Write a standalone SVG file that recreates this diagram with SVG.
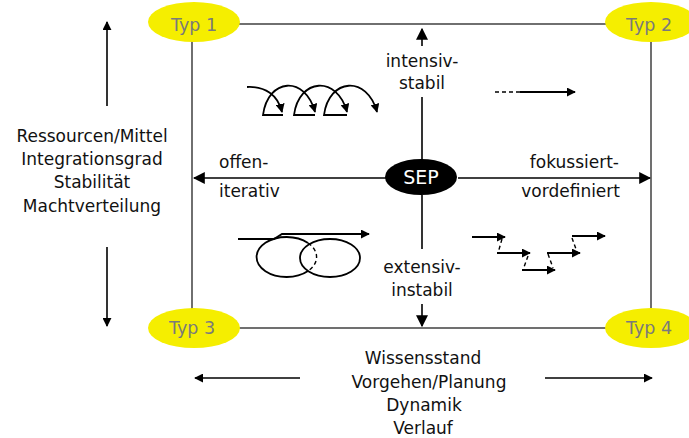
<svg xmlns="http://www.w3.org/2000/svg" width="689" height="438" viewBox="0 0 689 438">
  <defs>
    <marker id="ah" viewBox="0 0 10 10" refX="9" refY="5" markerWidth="9" markerHeight="9" markerUnits="userSpaceOnUse" orient="auto">
      <path d="M0,0 L10,5 L0,10 z" fill="#000"/>
    </marker>
    <marker id="ahL" viewBox="0 0 10 10" refX="9" refY="5" markerWidth="12" markerHeight="12" markerUnits="userSpaceOnUse" orient="auto">
      <path d="M0,0 L10,5 L0,10 z" fill="#000"/>
    </marker>
    <style>
      .frame { stroke: #111; stroke-width: 1.2; fill: none; }
      .axis { stroke: #000; stroke-width: 1.6; fill: none; }
      .fig { stroke: #000; stroke-width: 1.8; fill: none; }
      .dash { stroke: #000; stroke-width: 1.4; fill: none; stroke-dasharray: 4 3; }
      .lbl { font-family: "DejaVu Sans", "Liberation Sans", sans-serif; font-size: 17px; fill: #111; }
      .typ { fill: #f5ee00; }
      .typt { font-family: "DejaVu Sans", "Liberation Sans", sans-serif; font-size: 17.5px; fill: #7a7a7a; text-anchor: middle; }
    </style>
  </defs>

  <!-- outer frame -->
  <rect class="frame" x="192" y="24" width="459" height="304"/>

  <!-- connectors: axes and dimension arrows -->
  <g id="connectors">
    <line class="axis" x1="422" y1="46" x2="422" y2="29" marker-end="url(#ahL)"/>
    <line class="axis" x1="422" y1="97" x2="422" y2="160"/>
    <line class="axis" x1="422" y1="195" x2="422" y2="249"/>
    <line class="axis" x1="422" y1="304" x2="422" y2="326" marker-end="url(#ahL)"/>
    <line class="axis" x1="386" y1="178" x2="194" y2="178" marker-end="url(#ahL)"/>
    <line class="axis" x1="458" y1="178" x2="650" y2="178" marker-end="url(#ahL)"/>
    <line class="axis" x1="107" y1="106" x2="107" y2="22" marker-end="url(#ah)"/>
    <line class="axis" x1="107" y1="247" x2="107" y2="326" marker-end="url(#ah)"/>
    <line class="axis" x1="300" y1="378" x2="195" y2="378" marker-end="url(#ah)"/>
    <line class="axis" x1="545" y1="378" x2="652" y2="378" marker-end="url(#ah)"/>
  </g>

  <!-- corner types -->
  <g id="typ1"><ellipse class="typ" cx="194" cy="22" rx="46" ry="20"/><text class="typt" x="194" y="31">Typ 1</text></g>
  <g id="typ2"><ellipse class="typ" cx="651" cy="22" rx="46" ry="20"/><text class="typt" x="649" y="31">Typ 2</text></g>
  <g id="typ3"><ellipse class="typ" cx="194" cy="328" rx="46" ry="20"/><text class="typt" x="192" y="334">Typ 3</text></g>
  <g id="typ4"><ellipse class="typ" cx="651" cy="328" rx="46" ry="20"/><text class="typt" x="649" y="334">Typ 4</text></g>

  <!-- centre node -->
  <g id="sep">
    <ellipse cx="421" cy="177" rx="36" ry="18" fill="#000"/>
    <text x="421" y="184" text-anchor="middle" style="font-family:'DejaVu Sans','Liberation Sans',sans-serif;font-size:19px;fill:#fff">SEP</text>
  </g>

  <!-- axis labels -->
  <g id="axis-labels" class="lbl">
    <text x="422" y="67" text-anchor="middle">intensiv-</text>
    <text x="422" y="89" text-anchor="middle">stabil</text>
    <text x="422" y="273" text-anchor="middle">extensiv-</text>
    <text x="422" y="296" text-anchor="middle">instabil</text>
    <text x="219" y="168">offen-</text>
    <text x="219" y="197">iterativ</text>
    <text x="619" y="168" text-anchor="end">fokussiert-</text>
    <text x="620" y="197" text-anchor="end">vordefiniert</text>
  </g>

  <g id="left-label" class="lbl" text-anchor="middle">
    <text x="92" y="142">Ressourcen/Mittel</text>
    <text x="92" y="165">Integrationsgrad</text>
    <text x="92" y="188">Stabilität</text>
    <text x="92" y="212">Machtverteilung</text>
  </g>

  <g id="bottom-label" class="lbl" text-anchor="middle">
    <text x="423" y="364">Wissensstand</text>
    <text x="429" y="388">Vorgehen/Planung</text>
    <text x="424" y="411">Dynamik</text>
    <text x="423" y="434">Verlauf</text>
  </g>

  <!-- quadrant figure: recurring loops -->
  <g id="loops">
    <path class="fig" d="M247,87 C265,86 278,95 282,112" marker-end="url(#ah)"/>
    <path class="fig" d="M283,115 L263,115 C268,78 305,75 315,112" marker-end="url(#ah)"/>
    <path class="fig" d="M315,115 L294,115 C299,78 337,75 347,112" marker-end="url(#ah)"/>
    <path class="fig" d="M347,115 L324,115 C329,78 367,75 377,112" marker-end="url(#ah)"/>
  </g>

  <!-- quadrant figure: dashed-then-solid arrow -->
  <g id="straight">
    <line class="dash" x1="495" y1="92" x2="520" y2="92"/>
    <line class="fig" x1="520" y1="92" x2="575" y2="92" marker-end="url(#ah)"/>
  </g>

  <!-- quadrant figure: overlapping loops -->
  <g id="overlap">
    <path class="fig" d="M238,239 L274,239 L282,234 L369,234" marker-end="url(#ah)"/>
    <path class="fig" d="M308,243 A30 20 0 1 0 308,271"/>
    <path class="dash" d="M308,243 A30 20 0 0 1 308,271" stroke-dasharray="3 3"/>
    <ellipse class="fig" cx="330" cy="258" rx="30" ry="19"/>
  </g>

  <!-- quadrant figure: stepped arrows -->
  <g id="steps">
    <line class="fig" x1="472" y1="237" x2="505" y2="237" marker-end="url(#ah)"/>
    <line class="dash" x1="502" y1="239" x2="498" y2="253"/>
    <line class="fig" x1="497" y1="253" x2="530" y2="253" marker-end="url(#ah)"/>
    <line class="dash" x1="528" y1="256" x2="523" y2="270"/>
    <line class="fig" x1="522" y1="270" x2="555" y2="270" marker-end="url(#ah)"/>
    <line class="dash" x1="548" y1="254" x2="553" y2="268"/>
    <line class="fig" x1="547" y1="253" x2="580" y2="253" marker-end="url(#ah)"/>
    <line class="dash" x1="572" y1="238" x2="577" y2="252"/>
    <line class="fig" x1="572" y1="236" x2="605" y2="236" marker-end="url(#ah)"/>
  </g>
</svg>
